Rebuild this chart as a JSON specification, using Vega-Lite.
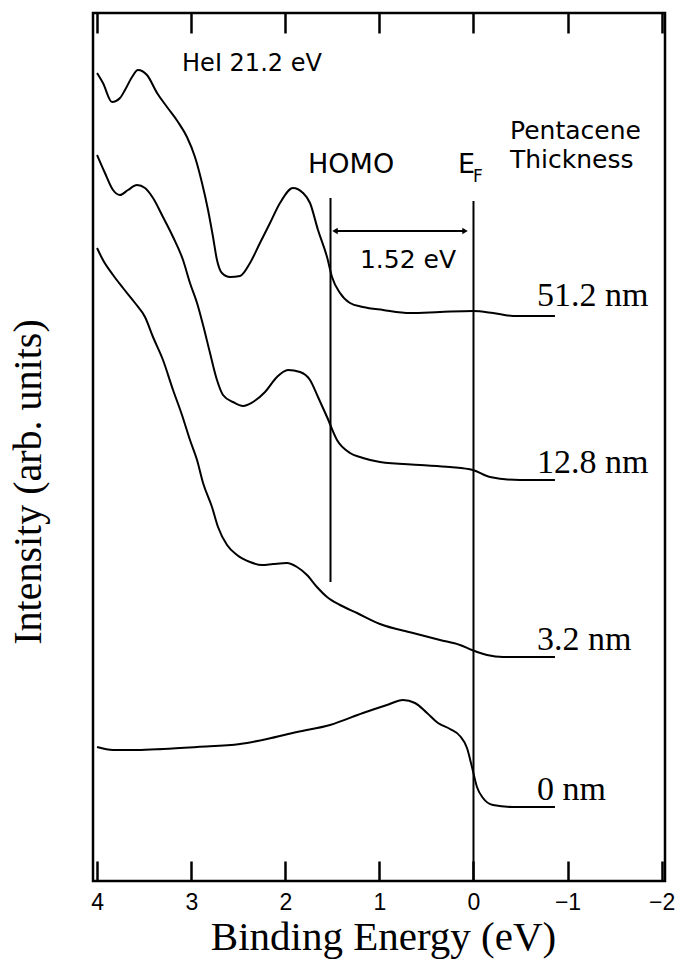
{
  "$schema": "https://vega.github.io/schema/vega-lite/v6.json",
  "width": 572,
  "height": 868,
  "autosize": "none",
  "padding": {"left": 93, "top": 13, "right": 18, "bottom": 85},
  "background": "white",
  "config": {"view": {"stroke": "black", "strokeWidth": 2.5}},
  "datasets": {
    "curves": [
      {"sample": "51.2 nm", "energy": 4.002, "intensity": 808},
      {"sample": "51.2 nm", "energy": 3.939, "intensity": 798},
      {"sample": "51.2 nm", "energy": 3.843, "intensity": 779},
      {"sample": "51.2 nm", "energy": 3.758, "intensity": 783},
      {"sample": "51.2 nm", "energy": 3.705, "intensity": 791},
      {"sample": "51.2 nm", "energy": 3.630, "intensity": 804},
      {"sample": "51.2 nm", "energy": 3.567, "intensity": 811},
      {"sample": "51.2 nm", "energy": 3.471, "intensity": 806},
      {"sample": "51.2 nm", "energy": 3.364, "intensity": 788},
      {"sample": "51.2 nm", "energy": 3.258, "intensity": 774},
      {"sample": "51.2 nm", "energy": 3.141, "intensity": 759},
      {"sample": "51.2 nm", "energy": 3.046, "intensity": 744},
      {"sample": "51.2 nm", "energy": 2.961, "intensity": 724},
      {"sample": "51.2 nm", "energy": 2.886, "intensity": 698},
      {"sample": "51.2 nm", "energy": 2.822, "intensity": 671},
      {"sample": "51.2 nm", "energy": 2.769, "intensity": 644},
      {"sample": "51.2 nm", "energy": 2.727, "intensity": 621},
      {"sample": "51.2 nm", "energy": 2.674, "intensity": 608},
      {"sample": "51.2 nm", "energy": 2.588, "intensity": 604},
      {"sample": "51.2 nm", "energy": 2.482, "intensity": 605},
      {"sample": "51.2 nm", "energy": 2.376, "intensity": 618},
      {"sample": "51.2 nm", "energy": 2.270, "intensity": 638},
      {"sample": "51.2 nm", "energy": 2.163, "intensity": 658},
      {"sample": "51.2 nm", "energy": 2.057, "intensity": 678},
      {"sample": "51.2 nm", "energy": 1.919, "intensity": 693},
      {"sample": "51.2 nm", "energy": 1.812, "intensity": 688},
      {"sample": "51.2 nm", "energy": 1.738, "intensity": 678},
      {"sample": "51.2 nm", "energy": 1.653, "intensity": 651},
      {"sample": "51.2 nm", "energy": 1.557, "intensity": 624},
      {"sample": "51.2 nm", "energy": 1.504, "intensity": 604},
      {"sample": "51.2 nm", "energy": 1.419, "intensity": 588},
      {"sample": "51.2 nm", "energy": 1.313, "intensity": 578},
      {"sample": "51.2 nm", "energy": 1.175, "intensity": 574},
      {"sample": "51.2 nm", "energy": 0.962, "intensity": 571},
      {"sample": "51.2 nm", "energy": 0.675, "intensity": 568},
      {"sample": "51.2 nm", "energy": 0.356, "intensity": 569},
      {"sample": "51.2 nm", "energy": 0.005, "intensity": 570},
      {"sample": "51.2 nm", "energy": -0.207, "intensity": 568},
      {"sample": "51.2 nm", "energy": -0.420, "intensity": 565},
      {"sample": "51.2 nm", "energy": -0.866, "intensity": 565},

      {"sample": "12.8 nm", "energy": 4.002, "intensity": 726},
      {"sample": "12.8 nm", "energy": 3.918, "intensity": 708},
      {"sample": "12.8 nm", "energy": 3.832, "intensity": 691},
      {"sample": "12.8 nm", "energy": 3.758, "intensity": 686},
      {"sample": "12.8 nm", "energy": 3.673, "intensity": 691},
      {"sample": "12.8 nm", "energy": 3.577, "intensity": 696},
      {"sample": "12.8 nm", "energy": 3.492, "intensity": 693},
      {"sample": "12.8 nm", "energy": 3.407, "intensity": 683},
      {"sample": "12.8 nm", "energy": 3.301, "intensity": 664},
      {"sample": "12.8 nm", "energy": 3.194, "intensity": 644},
      {"sample": "12.8 nm", "energy": 3.088, "intensity": 621},
      {"sample": "12.8 nm", "energy": 3.014, "intensity": 598},
      {"sample": "12.8 nm", "energy": 2.939, "intensity": 578},
      {"sample": "12.8 nm", "energy": 2.875, "intensity": 556},
      {"sample": "12.8 nm", "energy": 2.801, "intensity": 528},
      {"sample": "12.8 nm", "energy": 2.727, "intensity": 501},
      {"sample": "12.8 nm", "energy": 2.663, "intensity": 486},
      {"sample": "12.8 nm", "energy": 2.557, "intensity": 479},
      {"sample": "12.8 nm", "energy": 2.450, "intensity": 475},
      {"sample": "12.8 nm", "energy": 2.344, "intensity": 479},
      {"sample": "12.8 nm", "energy": 2.216, "intensity": 489},
      {"sample": "12.8 nm", "energy": 2.089, "intensity": 504},
      {"sample": "12.8 nm", "energy": 1.972, "intensity": 511},
      {"sample": "12.8 nm", "energy": 1.844, "intensity": 509},
      {"sample": "12.8 nm", "energy": 1.738, "intensity": 501},
      {"sample": "12.8 nm", "energy": 1.653, "intensity": 484},
      {"sample": "12.8 nm", "energy": 1.557, "intensity": 464},
      {"sample": "12.8 nm", "energy": 1.451, "intensity": 441},
      {"sample": "12.8 nm", "energy": 1.313, "intensity": 428},
      {"sample": "12.8 nm", "energy": 1.175, "intensity": 423},
      {"sample": "12.8 nm", "energy": 0.994, "intensity": 419},
      {"sample": "12.8 nm", "energy": 0.569, "intensity": 416},
      {"sample": "12.8 nm", "energy": 0.250, "intensity": 414},
      {"sample": "12.8 nm", "energy": 0.005, "intensity": 411},
      {"sample": "12.8 nm", "energy": -0.175, "intensity": 404},
      {"sample": "12.8 nm", "energy": -0.494, "intensity": 401},
      {"sample": "12.8 nm", "energy": -0.866, "intensity": 401},

      {"sample": "3.2 nm", "energy": 4.002, "intensity": 633},
      {"sample": "3.2 nm", "energy": 3.939, "intensity": 621},
      {"sample": "3.2 nm", "energy": 3.832, "intensity": 606},
      {"sample": "3.2 nm", "energy": 3.726, "intensity": 593},
      {"sample": "3.2 nm", "energy": 3.598, "intensity": 578},
      {"sample": "3.2 nm", "energy": 3.492, "intensity": 564},
      {"sample": "3.2 nm", "energy": 3.407, "intensity": 544},
      {"sample": "3.2 nm", "energy": 3.301, "intensity": 521},
      {"sample": "3.2 nm", "energy": 3.194, "intensity": 491},
      {"sample": "3.2 nm", "energy": 3.099, "intensity": 466},
      {"sample": "3.2 nm", "energy": 3.014, "intensity": 441},
      {"sample": "3.2 nm", "energy": 2.939, "intensity": 421},
      {"sample": "3.2 nm", "energy": 2.875, "intensity": 398},
      {"sample": "3.2 nm", "energy": 2.780, "intensity": 374},
      {"sample": "3.2 nm", "energy": 2.716, "intensity": 354},
      {"sample": "3.2 nm", "energy": 2.620, "intensity": 336},
      {"sample": "3.2 nm", "energy": 2.514, "intensity": 326},
      {"sample": "3.2 nm", "energy": 2.376, "intensity": 319},
      {"sample": "3.2 nm", "energy": 2.248, "intensity": 316},
      {"sample": "3.2 nm", "energy": 2.131, "intensity": 317},
      {"sample": "3.2 nm", "energy": 1.983, "intensity": 318},
      {"sample": "3.2 nm", "energy": 1.876, "intensity": 314},
      {"sample": "3.2 nm", "energy": 1.770, "intensity": 306},
      {"sample": "3.2 nm", "energy": 1.664, "intensity": 294},
      {"sample": "3.2 nm", "energy": 1.557, "intensity": 284},
      {"sample": "3.2 nm", "energy": 1.419, "intensity": 276},
      {"sample": "3.2 nm", "energy": 1.238, "intensity": 268},
      {"sample": "3.2 nm", "energy": 0.994, "intensity": 257},
      {"sample": "3.2 nm", "energy": 0.643, "intensity": 248},
      {"sample": "3.2 nm", "energy": 0.356, "intensity": 241},
      {"sample": "3.2 nm", "energy": 0.144, "intensity": 236},
      {"sample": "3.2 nm", "energy": 0.016, "intensity": 231},
      {"sample": "3.2 nm", "energy": -0.144, "intensity": 226},
      {"sample": "3.2 nm", "energy": -0.314, "intensity": 224},
      {"sample": "3.2 nm", "energy": -0.866, "intensity": 224},

      {"sample": "0 nm", "energy": 4.002, "intensity": 134},
      {"sample": "0 nm", "energy": 3.832, "intensity": 131},
      {"sample": "0 nm", "energy": 3.577, "intensity": 131},
      {"sample": "0 nm", "energy": 3.301, "intensity": 132},
      {"sample": "0 nm", "energy": 2.939, "intensity": 134},
      {"sample": "0 nm", "energy": 2.482, "intensity": 137},
      {"sample": "0 nm", "energy": 2.195, "intensity": 142},
      {"sample": "0 nm", "energy": 1.876, "intensity": 149},
      {"sample": "0 nm", "energy": 1.525, "intensity": 156},
      {"sample": "0 nm", "energy": 1.175, "intensity": 168},
      {"sample": "0 nm", "energy": 0.920, "intensity": 176},
      {"sample": "0 nm", "energy": 0.749, "intensity": 181},
      {"sample": "0 nm", "energy": 0.622, "intensity": 178},
      {"sample": "0 nm", "energy": 0.494, "intensity": 168},
      {"sample": "0 nm", "energy": 0.377, "intensity": 158},
      {"sample": "0 nm", "energy": 0.250, "intensity": 152},
      {"sample": "0 nm", "energy": 0.144, "intensity": 145},
      {"sample": "0 nm", "energy": 0.069, "intensity": 133},
      {"sample": "0 nm", "energy": 0.016, "intensity": 114},
      {"sample": "0 nm", "energy": -0.037, "intensity": 94},
      {"sample": "0 nm", "energy": -0.101, "intensity": 83},
      {"sample": "0 nm", "energy": -0.207, "intensity": 76},
      {"sample": "0 nm", "energy": -0.420, "intensity": 74},
      {"sample": "0 nm", "energy": -0.866, "intensity": 74}
    ]
  },
  "layer": [
    {
      "data": {"name": "curves"},
      "mark": {"type": "line", "color": "black", "strokeWidth": 2, "interpolate": "monotone"},
      "encoding": {
        "x": {
          "field": "energy", "type": "quantitative",
          "scale": {"domain": [-2.036, 4.045], "reverse": true, "nice": false, "zero": false},
          "axis": {
            "orient": "bottom", "values": [4, 3, 2, 1, 0, -1, -2], "format": "d",
            "domain": false, "grid": false,
            "tickSize": -20, "tickWidth": 2.5, "tickColor": "black",
            "labelFont": "Liberation Sans", "labelFontSize": 23, "labelColor": "black",
            "labelPadding": 30, "labelFlush": false, "labelOverlap": false,
            "title": "Binding Energy (eV)", "titleFont": "Liberation Serif", "titleFontSize": 41,
            "titleFontWeight": "normal", "titleColor": "black",
            "titleX": 290, "titleY": 68, "titleBaseline": "alphabetic", "titleAlign": "center"
          }
        },
        "y": {
          "field": "intensity", "type": "quantitative",
          "scale": {"domain": [0, 868], "nice": false, "zero": false},
          "axis": {
            "domain": false, "ticks": false, "labels": false, "grid": false,
            "title": "Intensity (arb. units)", "titleFont": "Liberation Serif", "titleFontSize": 40,
            "titleFontWeight": "normal", "titleColor": "black", "titleAngle": 270,
            "titleX": -53, "titleY": 468.5, "titleBaseline": "alphabetic", "titleAlign": "center"
          }
        },
        "detail": {"field": "sample", "type": "nominal"}
      }
    },
    {
      "data": {"name": "curves"},
      "mark": {"type": "point", "opacity": 0},
      "encoding": {
        "x": {
          "field": "energy", "type": "quantitative",
          "axis": {
            "orient": "top", "values": [4, 3, 2, 1, 0, -1, -2],
            "domain": false, "grid": false, "labels": false, "title": null,
            "tickSize": -20, "tickWidth": 2.5, "tickColor": "black"
          }
        },
        "y": {"field": "intensity", "type": "quantitative", "axis": null}
      }
    },
    {
      "data": {"values": [
        {"name": "HOMO", "energy": 1.52, "top": 683, "bottom": 299},
        {"name": "EF", "energy": 0, "top": 680, "bottom": 0}
      ]},
      "mark": {"type": "rule", "color": "black", "strokeWidth": 2},
      "encoding": {
        "x": {"field": "energy", "type": "quantitative", "axis": null},
        "y": {"field": "top", "type": "quantitative", "axis": null},
        "y2": {"field": "bottom"}
      }
    },
    {
      "data": {"values": [{"from": 1.472, "to": 0.09, "level": 650}]},
      "mark": {"type": "rule", "color": "black", "strokeWidth": 2},
      "encoding": {
        "x": {"field": "from", "type": "quantitative", "axis": null},
        "x2": {"field": "to"},
        "y": {"field": "level", "type": "quantitative", "axis": null}
      }
    },
    {
      "data": {"values": [{"energy": 1.472, "level": 650}]},
      "mark": {"type": "point", "shape": "triangle-left", "filled": true, "color": "black", "size": 40, "opacity": 1},
      "encoding": {
        "x": {"field": "energy", "type": "quantitative", "axis": null},
        "y": {"field": "level", "type": "quantitative", "axis": null}
      }
    },
    {
      "data": {"values": [{"energy": 0.09, "level": 650}]},
      "mark": {"type": "point", "shape": "triangle-right", "filled": true, "color": "black", "size": 40, "opacity": 1},
      "encoding": {
        "x": {"field": "energy", "type": "quantitative", "axis": null},
        "y": {"field": "level", "type": "quantitative", "axis": null}
      }
    },
    {
      "data": {"values": [
        {"label": "51.2 nm", "energy": -0.675, "level": 575},
        {"label": "12.8 nm", "energy": -0.675, "level": 408},
        {"label": "3.2 nm", "energy": -0.675, "level": 231},
        {"label": "0 nm", "energy": -0.675, "level": 81}
      ]},
      "mark": {"type": "text", "font": "Liberation Serif", "fontSize": 34, "align": "left", "baseline": "alphabetic", "color": "black"},
      "encoding": {
        "x": {"field": "energy", "type": "quantitative", "axis": null},
        "y": {"field": "level", "type": "quantitative", "axis": null},
        "text": {"field": "label"}
      }
    },
    {
      "data": {"values": [{"label": "HeI 21.2 eV", "energy": 3.098, "level": 810}]},
      "mark": {"type": "text", "font": "DejaVu Sans", "fontSize": 24, "align": "left", "baseline": "alphabetic", "color": "black"},
      "encoding": {
        "x": {"field": "energy", "type": "quantitative", "axis": null},
        "y": {"field": "level", "type": "quantitative", "axis": null},
        "text": {"field": "label"}
      }
    },
    {
      "data": {"values": [
        {"label": "Pentacene", "energy": -0.388, "level": 742},
        {"label": "Thickness", "energy": -0.388, "level": 713}
      ]},
      "mark": {"type": "text", "font": "DejaVu Sans", "fontSize": 25, "align": "left", "baseline": "alphabetic", "color": "black"},
      "encoding": {
        "x": {"field": "energy", "type": "quantitative", "axis": null},
        "y": {"field": "level", "type": "quantitative", "axis": null},
        "text": {"field": "label"}
      }
    },
    {
      "data": {"values": [
        {"label": "HOMO", "energy": 1.759, "level": 708},
        {"label": "E", "energy": 0.165, "level": 708}
      ]},
      "mark": {"type": "text", "font": "DejaVu Sans", "fontSize": 27, "align": "left", "baseline": "alphabetic", "color": "black"},
      "encoding": {
        "x": {"field": "energy", "type": "quantitative", "axis": null},
        "y": {"field": "level", "type": "quantitative", "axis": null},
        "text": {"field": "label"}
      }
    },
    {
      "data": {"values": [{"label": "1.52 eV", "energy": 1.207, "level": 613}]},
      "mark": {"type": "text", "font": "DejaVu Sans", "fontSize": 25, "align": "left", "baseline": "alphabetic", "color": "black"},
      "encoding": {
        "x": {"field": "energy", "type": "quantitative", "axis": null},
        "y": {"field": "level", "type": "quantitative", "axis": null},
        "text": {"field": "label"}
      }
    },
    {
      "data": {"values": [{"label": "F", "energy": 0.005, "level": 699}]},
      "mark": {"type": "text", "font": "DejaVu Sans", "fontSize": 17, "align": "left", "baseline": "alphabetic", "color": "black"},
      "encoding": {
        "x": {"field": "energy", "type": "quantitative", "axis": null},
        "y": {"field": "level", "type": "quantitative", "axis": null},
        "text": {"field": "label"}
      }
    }
  ],
  "resolve": {"axis": {"x": "independent", "y": "independent"}}
}
